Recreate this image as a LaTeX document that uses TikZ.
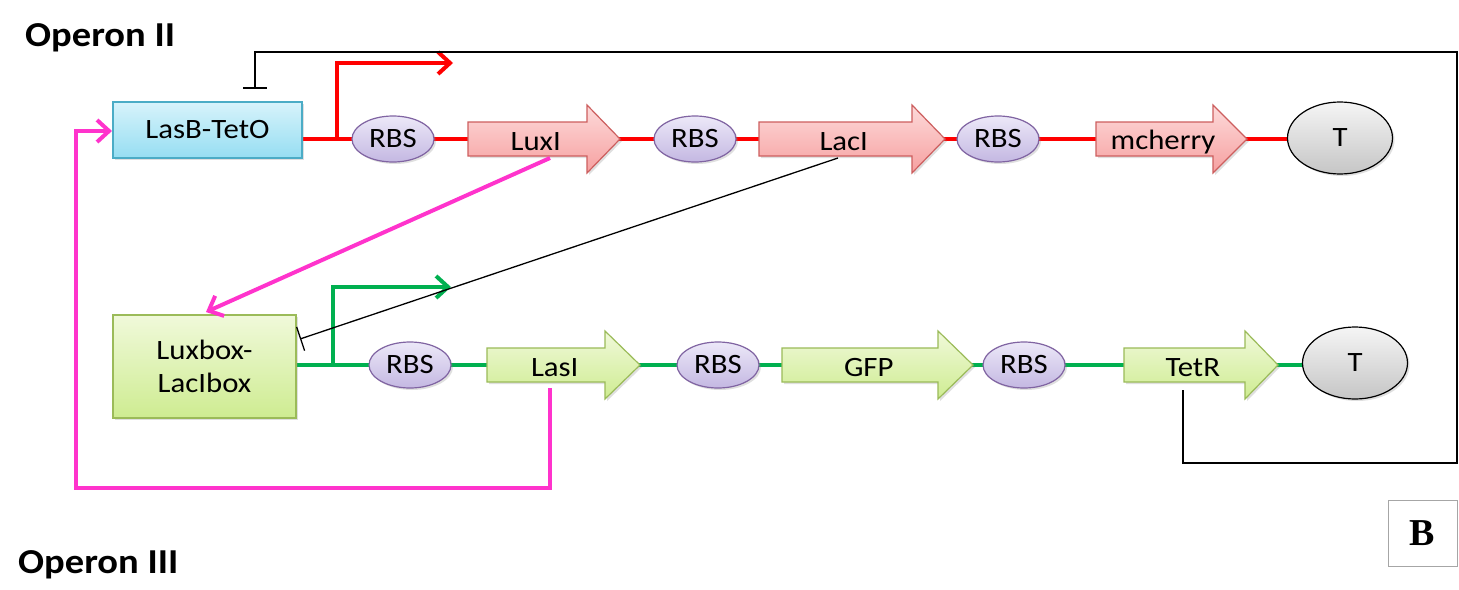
\documentclass[tikz,border=0pt]{standalone}
\usepackage{fontspec}
\setmainfont{Carlito}[FakeStretch=1.1]
\newfontfamily\serifB{Liberation Serif}
\usetikzlibrary{arrows.meta,shapes.geometric,shadows}
\definecolor{pinkl}{RGB}{255,51,204}
\definecolor{greenl}{RGB}{0,176,80}
\definecolor{redl}{RGB}{255,0,0}
\tikzset{
  lab/.style={font=\fontsize{28}{33}\selectfont, inner sep=0pt},
  sh/.style={drop shadow={shadow xshift=2pt,shadow yshift=-2pt,opacity=.25}},
  rbs/.style={ellipse, draw={rgb,255:red,128;green,100;blue,162}, line width=1.2pt, top color={rgb,255:red,236;green,232;blue,248}, bottom color={rgb,255:red,196;green,184;blue,226},
     minimum width=82pt, minimum height=46pt, inner sep=0pt, font=\fontsize{28}{33}\selectfont, sh},
  term/.style={ellipse, draw=black, line width=1.2pt, top color=gray!8, bottom color=gray!45,
     minimum width=105pt, minimum height=72pt, inner sep=0pt, font=\fontsize{28}{33}\selectfont, sh},
  redgene/.style={draw={rgb,255:red,205;green,95;blue,95}, line width=1.2pt, top color={rgb,255:red,253;green,218;blue,218}, bottom color={rgb,255:red,246;green,160;blue,160}, sh},
  greengene/.style={draw={rgb,255:red,155;green,187;blue,89}, line width=1.2pt, top color={rgb,255:red,240;green,249;blue,218}, bottom color={rgb,255:red,206;green,236;blue,145}, sh},
  promred/.style={draw={rgb,255:red,75;green,172;blue,198}, line width=1.2pt, top color={rgb,255:red,215;green,243;blue,251}, bottom color={rgb,255:red,150;green,222;blue,242}, sh},
  promgreen/.style={greengene},
  redwire/.style={draw=redl, line width=4pt},
  greenwire/.style={draw=greenl, line width=4pt},
  pinkwire/.style={draw=pinkl, line width=4pt, line join=miter},
  barb/.style={-{Straight Barb[length=12pt,width=22pt]}},
  inhib/.style={draw=black, line width=1.3pt, -{Bar[width=25pt,line width=1.3pt]}},
}
\newcommand\GeneArr[7]{%
  \path[#6] (#2,#5-17) -- (#3,#5-17) -- (#3,#5-34) -- (#4,#5) -- (#3,#5+34) -- (#3,#5+17) -- (#2,#5+17) -- cycle;
  \node[lab] (#1) at ({(2*#2+#3+#4)/4},#5+3) {#7};
}
\begin{document}
\begin{tikzpicture}[x=1pt,y=-1pt]
\useasboundingbox (0,0) rectangle (1459,589);
\fill[white] (0,0) rectangle (1459,589);

% titles
\node[anchor=base west, inner sep=0pt, font=\fontsize{35}{40}\selectfont\bfseries] (t2) at (25,46) {Operon II};
\node[anchor=base west, inner sep=0pt, font=\fontsize{35}{40}\selectfont\bfseries] (t3) at (18,573) {Operon III};

% backbone wires
\coordinate (w1s) at (302,139);
\coordinate (w1e) at (1290,139);
\draw[redwire] (w1s) -- (w1e);
\coordinate (w2s) at (296,365);
\coordinate (w2e) at (1304,365);
\draw[greenwire] (w2s) -- (w2e);

% promoter arrows
\coordinate (pr1) at (337,139);
\coordinate (pr1t) at (453,63);
\draw[redwire, barb] (pr1) |- (pr1t);
\coordinate (pr2) at (333,365);
\coordinate (pr2t) at (451,287);
\draw[greenwire, barb] (pr2) |- (pr2t);

% promoter boxes
\node[promred, minimum width=189pt, minimum height=56pt, inner sep=0pt, font=\fontsize{28}{33}\selectfont] (lasb) at (207.5,130) {LasB-TetO};
\node[promgreen, minimum width=183pt, minimum height=103pt, inner sep=0pt, align=center, font=\fontsize{28}{33}\selectfont] (luxbox) at (204.5,366.5) {Luxbox-\\LacIbox};

% top row
\node[rbs] (rbs1) at (393,139) {RBS};
\GeneArr{luxI}{468}{587}{620}{139}{redgene}{LuxI}
\node[rbs] (rbs2) at (695,139) {RBS};
\GeneArr{lacI}{759}{912}{945}{139}{redgene}{LacI}
\node[rbs] (rbs3) at (998,139) {RBS};
\GeneArr{mch}{1096}{1213}{1247}{139}{redgene}{mcherry}
\node[term] (t1) at (1340,138) {T};

% bottom row
\node[rbs] (rbs4) at (410,365) {RBS};
\GeneArr{lasI}{487}{605}{640}{365}{greengene}{LasI}
\node[rbs] (rbs5) at (718,365) {RBS};
\GeneArr{gfp}{782}{938}{973}{365}{greengene}{GFP}
\node[rbs] (rbs6) at (1024,365) {RBS};
\GeneArr{tetR}{1124}{1245}{1278}{365}{greengene}{TetR}
\node[term] (tb) at (1355,363) {T};

% regulation connectors
\coordinate (luxIout) at (550,158);
\coordinate (luxboxin) at (206,312);
\draw[pinkwire, barb] (luxIout) -- (luxboxin);

\coordinate (lasIout) at (550,388);
\coordinate (lasbin) at (112,131);
\draw[pinkwire, barb] (lasIout) -- (550,488) -| (76,131) -- (lasbin);

\coordinate (lacIout) at (838,158);
\coordinate (luxboxrep) at (300,339);
\draw[inhib] (lacIout) -- (luxboxrep);

\coordinate (tetRout) at (1183,390);
\coordinate (lasbrep) at (255,88);
\draw[draw=black, line width=1.3pt] (tetRout) -- (1183,463) -- (1457,463) -- (1457,52) -- (255,52) -- (lasbrep);
\draw[draw=black, line width=1.3pt] (243,88) -- (267,88);

% panel label
\node[draw=gray!70, line width=1pt, minimum width=69pt, minimum height=66pt, inner sep=0pt, font=\fontsize{38}{44}\selectfont\serifB\bfseries] (lblB) at (1422.5,533) {B};
\end{tikzpicture}
\end{document}
